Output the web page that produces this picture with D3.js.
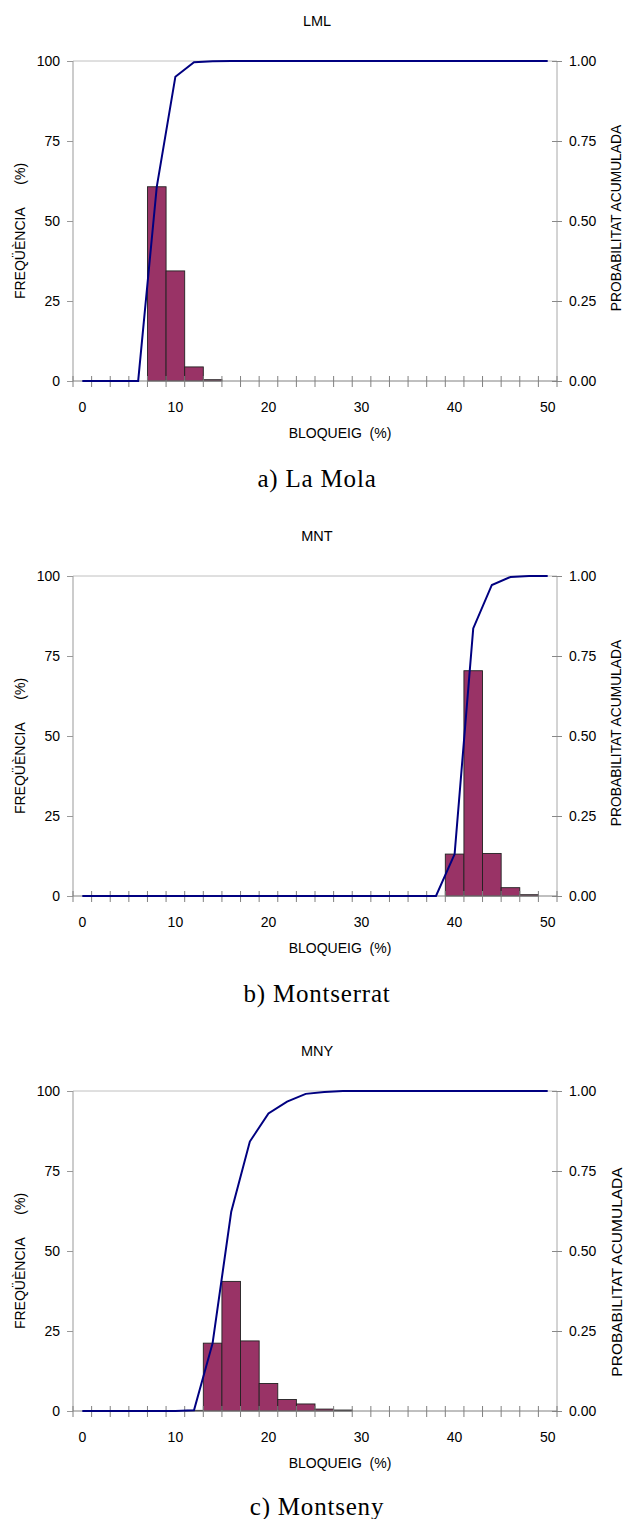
<!DOCTYPE html>
<html>
<head>
<meta charset="utf-8">
<script src="https://cdn.jsdelivr.net/npm/d3@7"></script>
<style>
  body { margin: 0; background: #fff; }
  svg { display: block; font-family: "Liberation Sans", Arial, sans-serif; }
  text { white-space: pre; }
</style>
</head>
<body>
<script>
// categories of the histogram (BLOQUEIG %)
let categories = [0, 2, 4, 6, 8, 10, 12, 14, 16, 18, 20, 22, 24, 26, 28, 30, 32, 34, 36, 38, 40, 42, 44, 46, 48, 50]
let xTickLabels = [0, 10, 20, 30, 40, 50]
let freqTicks = [0, 25, 50, 75, 100]
let probTicks = [0, 0.25, 0.5, 0.75, 1]

let titles = ['LML', 'MNT', 'MNY']
let captions = ['a) La Mola', 'b) Montserrat', 'c) Montseny']

// freqüència (%) per categoria
let freqLML = [0, 0, 0, 0, 60.7, 34.4, 4.4, 0.4, 0, 0, 0, 0, 0, 0, 0, 0, 0, 0, 0, 0, 0, 0, 0, 0, 0, 0]
let freqMNT = [0, 0, 0, 0, 0, 0, 0, 0, 0, 0, 0, 0, 0, 0, 0, 0, 0, 0, 0, 0, 13.1, 70.4, 13.3, 2.6, 0.4, 0]
let freqMNY = [0, 0, 0, 0, 0, 0, 0.2, 21.2, 40.5, 21.9, 8.6, 3.6, 2.2, 0.6, 0.3, 0, 0, 0, 0, 0, 0, 0, 0, 0, 0, 0]

// probabilitat acumulada
let cumLML = [0, 0, 0, 0, 0.607, 0.951, 0.996, 0.999, 1, 1, 1, 1, 1, 1, 1, 1, 1, 1, 1, 1, 1, 1, 1, 1, 1, 1]
let cumMNT = [0, 0, 0, 0, 0, 0, 0, 0, 0, 0, 0, 0, 0, 0, 0, 0, 0, 0, 0, 0, 0.131, 0.836, 0.972, 0.997, 1, 1]
let cumMNY = [0, 0, 0, 0, 0, 0, 0.002, 0.212, 0.623, 0.842, 0.930, 0.967, 0.991, 0.997, 1, 1, 1, 1, 1, 1, 1, 1, 1, 1, 1, 1]

let freqs = [freqLML, freqMNT, freqMNY]
let cums = [cumLML, cumMNT, cumMNY]

let offsets = [0, 515, 1030]
let margin = { top: 61, left: 73, right: 69 }
let plotW = 626 - margin.left - margin.right
let plotH = 320

let svg = d3.select('body')
    .append('svg')
    .attr('width', 626)
    .attr('height', 1519)

let x = d3.scaleBand()
    .domain(categories)
    .range([0, plotW])
    .padding(0)

let yL = d3.scaleLinear().domain([0, 100]).range([plotH, 0])
let yR = d3.scaleLinear().domain([0, 1]).range([plotH, 0])

function drawChart(k) {
    let root = svg.append('g').attr('transform', 'translate(0,' + offsets[k] + ')')
    let g = root.append('g').attr('transform', 'translate(' + margin.left + ',' + margin.top + ')')

    //title
    root.append('text')
        .attr('x', 317).attr('y', 26)
        .attr('text-anchor', 'middle')
        .attr('font-size', 14.5)
        .text(titles[k])

    //top gridline
    g.append('line')
        .attr('x1', 0).attr('x2', plotW)
        .attr('y1', yL(100)).attr('y2', yL(100))
        .attr('stroke', '#c0c0c0')

    //bars
    let data = categories.map((c, i) => ({ c: c, f: freqs[k][i], p: cums[k][i] }))
    g.selectAll('rect')
        .data(data.filter(d => d.f > 0))
        .enter()
        .append('rect')
        .attr('x', d => x(d.c))
        .attr('width', x.bandwidth())
        .attr('y', d => yL(d.f))
        .attr('height', d => yL(0) - yL(d.f))
        .attr('fill', '#993366')
        .attr('stroke', '#222')
        .attr('stroke-width', 0.9)

    //left axis
    let left = g.append('g').call(d3.axisLeft(yL).tickValues(freqTicks).tickSize(6).tickPadding(7))
    left.select('.domain').attr('stroke', '#999').attr('d', 'M0,' + plotH + 'V0')
    left.selectAll('.tick line').attr('stroke', '#999')
    left.selectAll('text').attr('font-size', 14).attr('font-family', null).attr('fill', '#000')

    //right axis
    let right = g.append('g')
        .attr('transform', 'translate(' + plotW + ',0)')
        .call(d3.axisRight(yR).tickValues(probTicks).tickFormat(d3.format('.2f')).tickSize(5).tickPadding(7))
    right.select('.domain').attr('stroke', '#a8a8a8').attr('d', 'M0,' + plotH + 'V0')
    right.selectAll('.tick line').attr('stroke', '#888').attr('x1', -5)
    right.selectAll('text').attr('font-size', 14).attr('font-family', null).attr('fill', '#000')

    //bottom axis, ticks between categories
    let bottom = g.append('g').attr('transform', 'translate(0,' + plotH + ')')
    bottom.append('line')
        .attr('x1', 0).attr('x2', plotW)
        .attr('stroke', '#808080')
    bottom.selectAll('.xt')
        .data(categories.concat([null]))
        .enter()
        .append('line')
        .attr('class', 'xt')
        .attr('x1', (d, i) => i * x.bandwidth())
        .attr('x2', (d, i) => i * x.bandwidth())
        .attr('y1', -5).attr('y2', 6)
        .attr('stroke', '#808080')
    bottom.selectAll('.xl')
        .data(xTickLabels)
        .enter()
        .append('text')
        .attr('class', 'xl')
        .attr('x', d => x(d) + x.bandwidth() / 2)
        .attr('y', 30.5)
        .attr('text-anchor', 'middle')
        .attr('font-size', 14)
        .text(d => d)

    //cumulative line
    let line = d3.line()
        .x(d => x(d.c) + x.bandwidth() / 2)
        .y(d => yR(d.p))
    g.append('path')
        .datum(data)
        .attr('d', line)
        .attr('fill', 'none')
        .attr('stroke', '#000080')
        .attr('stroke-width', 2)

    //axis labels
    root.append('text')
        .attr('x', 340).attr('y', 438)
        .attr('text-anchor', 'middle')
        .attr('font-size', 14)
        .text('BLOQUEIG  (%)')

    root.append('text')
        .attr('transform', 'translate(25,231) rotate(-90)')
        .attr('text-anchor', 'middle')
        .attr('font-size', 14)
        .text('FREQÜÈNCIA      (%)')

    // the last chart has a bigger label pushed to the page edge
    let rx = k == 2 ? 622 : 621
    let ry = k == 2 ? 242 : 218
    root.append('text')
        .attr('transform', 'translate(' + rx + ',' + ry + ') rotate(-90)')
        .attr('text-anchor', 'middle')
        .attr('font-size', k == 2 ? 15.5 : 13.8)
        .text('PROBABILITAT ACUMULADA')

    //caption
    root.append('text')
        .attr('x', 317).attr('y', k == 2 ? 484.5 : 487)
        .attr('text-anchor', 'middle')
        .attr('font-family', '"Liberation Serif", "Times New Roman", serif')
        .attr('font-size', 25)
        .attr('letter-spacing', 0.8)
        .text(captions[k])
}

titles.forEach((t, k) => drawChart(k))
</script>
</body>
</html>
